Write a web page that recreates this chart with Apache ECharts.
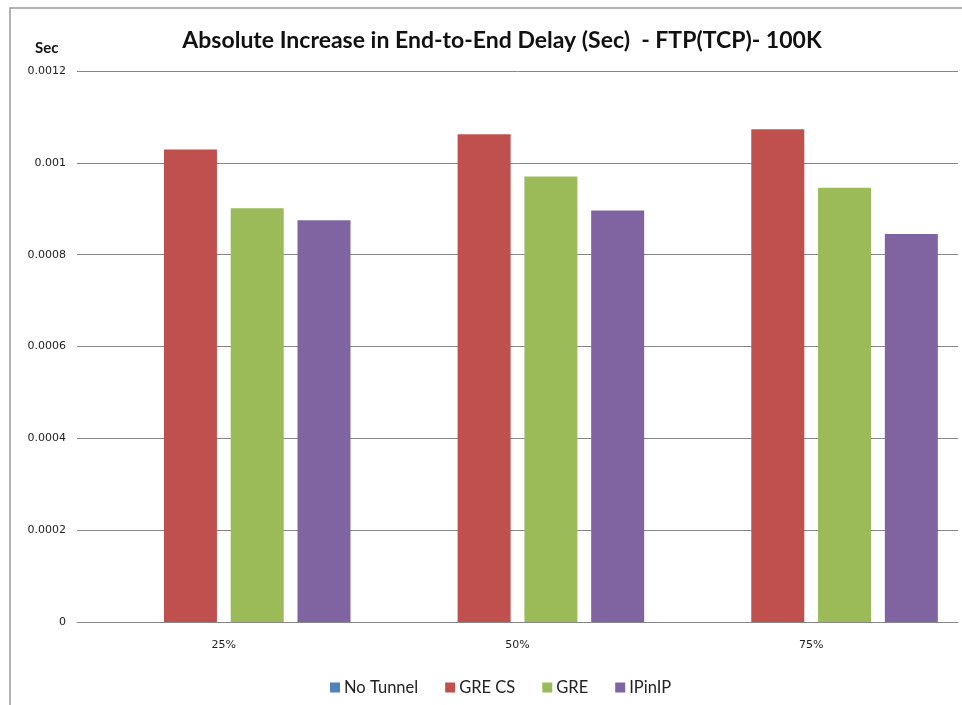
<!DOCTYPE html>
<html>
<head>
<meta charset="utf-8">
<script src="https://cdn.jsdelivr.net/npm/echarts@6/dist/echarts.min.js"></script>
<style>
  html, body { margin: 0; padding: 0; background: #fff; }
  #chart { width: 962px; height: 705px; }
</style>
</head>
<body>
<div id="chart"></div>
<script>
// Load percentages on the x axis
const categories = ['25%', '50%', '75%'];

// Absolute increase in end-to-end delay (seconds) per tunnel type
const noTunnel = [0, 0, 0];
const greCs = [0.001029, 0.001062, 0.001073];
const gre = [0.000901, 0.000970, 0.000946];
const ipInIp = [0.000875, 0.000896, 0.000845];

// Value axis ticks
const yTicks = [0, 0.0002, 0.0004, 0.0006, 0.0008, 0.001, 0.0012];

const seriesNames = ['No Tunnel', 'GRE CS', 'GRE', 'IPinIP'];
const seriesColors = ['#4F81BD', '#C0504D', '#9BBB59', '#8064A2'];
const seriesData = [noTunnel, greCs, gre, ipInIp];

const chart = echarts.init(document.getElementById('chart'));
const textFont = 'Lato, "Open Sans", sans-serif';
const smallFont = '"DejaVu Sans", sans-serif';

chart.setOption({
  animation: false,
  backgroundColor: '#ffffff',
  color: seriesColors,
  title: {
    text: 'Absolute Increase in End-to-End Delay (Sec)  - FTP(TCP)- 100K',
    left: 497,
    textAlign: 'center',
    top: 24,
    textStyle: { fontFamily: textFont, fontSize: 23, fontWeight: 'bold', color: '#111' }
  },
  graphic: [
    {
      type: 'rect',
      shape: { x: 10, y: 8, width: 980, height: 720 },
      style: { fill: 'none', stroke: '#9a9a9a', lineWidth: 1.5 },
      silent: true
    },
    {
      type: 'text',
      left: 35, top: 41,
      style: { text: 'Sec', font: 'bold 15px ' + textFont, fill: '#111' }
    }
  ],
  legend: {
    top: 674,
    left: 325,
    itemWidth: 10,
    itemHeight: 10,
    itemGap: 27,
    icon: 'rect',
    textStyle: { fontFamily: textFont, fontSize: 16.5, color: '#222', padding: [0, 0, 0, -1] },
    data: seriesNames
  },
  grid: { left: 77, right: 4, top: 71, bottom: 83, containLabel: false },
  xAxis: {
    type: 'category',
    data: categories,
    axisLine: { lineStyle: { color: '#868686', width: 1 } },
    axisTick: { show: false },
    axisLabel: { fontFamily: smallFont, fontSize: 11, color: '#222', margin: 18 }
  },
  yAxis: {
    type: 'value',
    min: yTicks[0],
    max: yTicks[yTicks.length - 1],
    interval: yTicks[1] - yTicks[0],
    axisLine: { show: false },
    axisTick: { show: false },
    splitLine: { lineStyle: { color: '#868686', width: 1 } },
    axisLabel: {
      fontFamily: smallFont, fontSize: 11, color: '#222', margin: 11,
      formatter: function (v) {
        const t = yTicks.find(x => Math.abs(x - v) < 1e-9);
        return t === 0 ? '0' : String(+(t !== undefined ? t : v).toFixed(4));
      }
    }
  },
  series: seriesNames.map((name, i) => ({
    name: name,
    type: 'bar',
    data: seriesData[i],
    barWidth: 53,
    barGap: '26%',
    itemStyle: { color: seriesColors[i] }
  }))
});
</script>
</body>
</html>
